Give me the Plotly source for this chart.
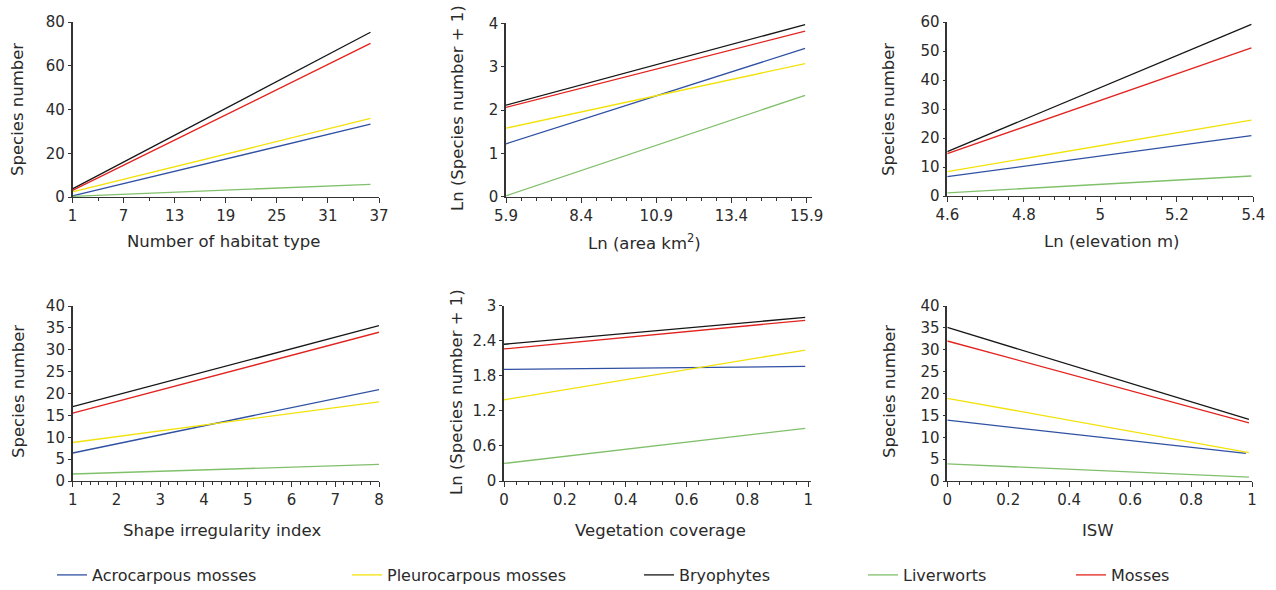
import plotly.graph_objects as go

W, H = 1276, 590

series_names = ["Acrocarpous mosses", "Pleurocarpous mosses", "Bryophytes", "Liverworts", "Mosses"]
series_colors = ["#2f50a3", "#f2e20a", "#161616", "#80c06a", "#e2231f"]

# Panel 1: Number of habitat type
p1_x = [1, 36]
p1_acro = [0.5, 33.3]
p1_pleuro = [2.3, 35.9]
p1_bryo = [3.7, 75.3]
p1_liver = [0.3, 5.8]
p1_moss = [3.0, 70.2]

# Panel 2: Ln (area km2)
p2_x = [5.9, 15.85]
p2_acro = [1.22, 3.42]
p2_pleuro = [1.58, 3.07]
p2_bryo = [2.11, 3.97]
p2_liver = [0.02, 2.34]
p2_moss = [2.06, 3.82]

# Panel 3: Ln (elevation m)
p3_x = [4.6, 5.395]
p3_acro = [6.7, 20.8]
p3_pleuro = [8.4, 26.2]
p3_bryo = [15.3, 59.2]
p3_liver = [1.1, 6.9]
p3_moss = [14.6, 51.1]

# Panel 4: Shape irregularity index
p4_x = [1, 8]
p4_acro = [6.4, 20.9]
p4_pleuro = [8.8, 18.1]
p4_bryo = [17.0, 35.5]
p4_liver = [1.6, 3.8]
p4_moss = [15.5, 34.0]

# Panel 5: Vegetation coverage
p5_x = [0, 0.99]
p5_acro = [1.91, 1.96]
p5_pleuro = [1.39, 2.24]
p5_bryo = [2.34, 2.80]
p5_liver = [0.30, 0.90]
p5_moss = [2.26, 2.75]

# Panel 6: ISW
p6_x = [0, 0.99]
p6_x_acro = [0, 0.98]
p6_acro = [13.9, 6.3]
p6_pleuro = [18.9, 6.5]
p6_bryo = [35.1, 14.1]
p6_liver = [3.9, 0.9]
p6_moss = [32.0, 13.3]

x_titles = ["Number of habitat type", "Ln (area km<sup>2</sup>)", "Ln (elevation m)",
            "Shape irregularity index", "Vegetation coverage", "ISW"]
y_titles = ["Species number", "Ln (Species number + 1)", "Species number",
            "Species number", "Ln (Species number + 1)", "Species number"]

panels = [
    dict(x=[p1_x]*5, ys=[p1_acro, p1_pleuro, p1_bryo, p1_liver, p1_moss],
         px=(72.5, 379), py=(22, 197), xr=[1, 37], yr=[0, 80],
         xt=dict(tick0=1, dtick=6, minor=3), yt=dict(tick0=0, dtick=20),
         xtitle_pos=(223, 241), ytitle_pos=(18, 110)),
    dict(x=[p2_x]*5, ys=[p2_acro, p2_pleuro, p2_bryo, p2_liver, p2_moss],
         px=(506, 811.7), py=(23.3, 196.7), xr=[5.9, 16.07], yr=[0, 4],
         xt=dict(tick0=5.9, dtick=2.5, minor=0.5), yt=dict(tick0=0, dtick=1),
         xtitle_pos=(645, 242), ytitle_pos=(457, 108)),
    dict(x=[p3_x]*5, ys=[p3_acro, p3_pleuro, p3_bryo, p3_liver, p3_moss],
         px=(947.3, 1253.3), py=(22, 196), xr=[4.6, 5.4], yr=[0, 60],
         xt=dict(tick0=4.6, dtick=0.2, minor=0.04), yt=dict(tick0=0, dtick=10),
         xtitle_pos=(1111, 241), ytitle_pos=(889, 110)),
    dict(x=[p4_x]*5, ys=[p4_acro, p4_pleuro, p4_bryo, p4_liver, p4_moss],
         px=(72.7, 379), py=(306, 481), xr=[1, 8], yr=[0, 40],
         xt=dict(tick0=1, dtick=1, minor=0.2), yt=dict(tick0=0, dtick=5),
         xtitle_pos=(222, 530), ytitle_pos=(18, 392)),
    dict(x=[p5_x]*5, ys=[p5_acro, p5_pleuro, p5_bryo, p5_liver, p5_moss],
         px=(504, 810.7), py=(305.7, 481), xr=[0, 1.008], yr=[0, 3],
         xt=dict(tick0=0, dtick=0.2, minor=0.04), yt=dict(tick0=0, dtick=0.6),
         xtitle_pos=(660, 530), ytitle_pos=(456, 392)),
    dict(x=[p6_x_acro, p6_x, p6_x, p6_x, p6_x], ys=[p6_acro, p6_pleuro, p6_bryo, p6_liver, p6_moss],
         px=(947.3, 1252), py=(306, 481), xr=[0, 1], yr=[0, 40],
         xt=dict(tick0=0, dtick=0.2, minor=0.04), yt=dict(tick0=0, dtick=5),
         xtitle_pos=(1098, 530), ytitle_pos=(889, 392)),
]

FONT = "DejaVu Sans"
AXCOL = "#333333"
TXTCOL = "#2a2a2a"

fig = go.Figure()
layout = dict(
    width=W, height=H,
    margin=dict(l=0, r=0, t=0, b=0, autoexpand=False),
    paper_bgcolor="white", plot_bgcolor="white",
    font=dict(family=FONT, size=15, color=TXTCOL),
    showlegend=True,
)

annotations = []
for i, p in enumerate(panels):
    k = i + 1
    xa = "xaxis" if k == 1 else f"xaxis{k}"
    ya = "yaxis" if k == 1 else f"yaxis{k}"
    xref = "x" if k == 1 else f"x{k}"
    yref = "y" if k == 1 else f"y{k}"
    layout[xa] = dict(
        domain=[p["px"][0] / W, p["px"][1] / W], anchor=yref,
        range=p["xr"], showgrid=False, zeroline=False,
        showline=True, linecolor=AXCOL, linewidth=1.2,
        ticks="outside", ticklen=5, tickwidth=1, tickcolor=AXCOL,
        tick0=p["xt"]["tick0"], dtick=p["xt"]["dtick"],
        minor=dict(ticks="outside", ticklen=3, tickwidth=1, tickcolor=AXCOL,
                   tick0=p["xt"]["tick0"], dtick=p["xt"]["minor"], showgrid=False),
        tickfont=dict(family=FONT, size=15, color=TXTCOL),
        fixedrange=True, automargin=False,
    )
    layout[ya] = dict(
        domain=[1 - p["py"][1] / H, 1 - p["py"][0] / H], anchor=xref,
        range=p["yr"], showgrid=False, zeroline=False,
        showline=True, linecolor=AXCOL, linewidth=1.5,
        ticks="outside", ticklen=3, tickwidth=1, tickcolor=AXCOL,
        tick0=p["yt"]["tick0"], dtick=p["yt"]["dtick"],
        tickfont=dict(family=FONT, size=15, color=TXTCOL),
        fixedrange=True, automargin=False,
    )
    for j in range(5):
        fig.add_trace(go.Scatter(
            x=p["x"][j], y=p["ys"][j], mode="lines",
            line=dict(color=series_colors[j], width=1.3),
            name=series_names[j],
            showlegend=(i == 0),
            legend=("legend" if j == 0 else f"legend{j+1}"),
            xaxis=xref, yaxis=yref, hoverinfo="skip",
        ))
    annotations.append(dict(
        text=x_titles[i], xref="paper", yref="paper",
        x=p["xtitle_pos"][0] / W, y=1 - p["xtitle_pos"][1] / H,
        xanchor="center", yanchor="middle", showarrow=False,
        font=dict(family=FONT, size=16.5, color=TXTCOL)))
    annotations.append(dict(
        text=y_titles[i], xref="paper", yref="paper",
        x=p["ytitle_pos"][0] / W, y=1 - p["ytitle_pos"][1] / H,
        xanchor="center", yanchor="middle", showarrow=False, textangle=-90,
        font=dict(family=FONT, size=16.5, color=TXTCOL)))

# legend placement: text start positions in px
legend_text_start = [100, 395, 687, 911, 1119]
for j in range(5):
    key = "legend" if j == 0 else f"legend{j+1}"
    layout[key] = dict(
        x=(legend_text_start[j] - 48) / W, y=1 - 575 / H,
        xanchor="left", yanchor="middle",
        orientation="h", bgcolor="rgba(0,0,0,0)", borderwidth=0,
        font=dict(family=FONT, size=16, color=TXTCOL),
        itemclick=False, itemdoubleclick=False,
    )

layout["annotations"] = annotations
fig.update_layout(**layout)
fig.write_html(
    "out.html",
    config={"displayModeBar": False, "staticPlot": False},
    post_script="document.body.style.margin='0px';document.body.style.overflow='hidden';",
)
